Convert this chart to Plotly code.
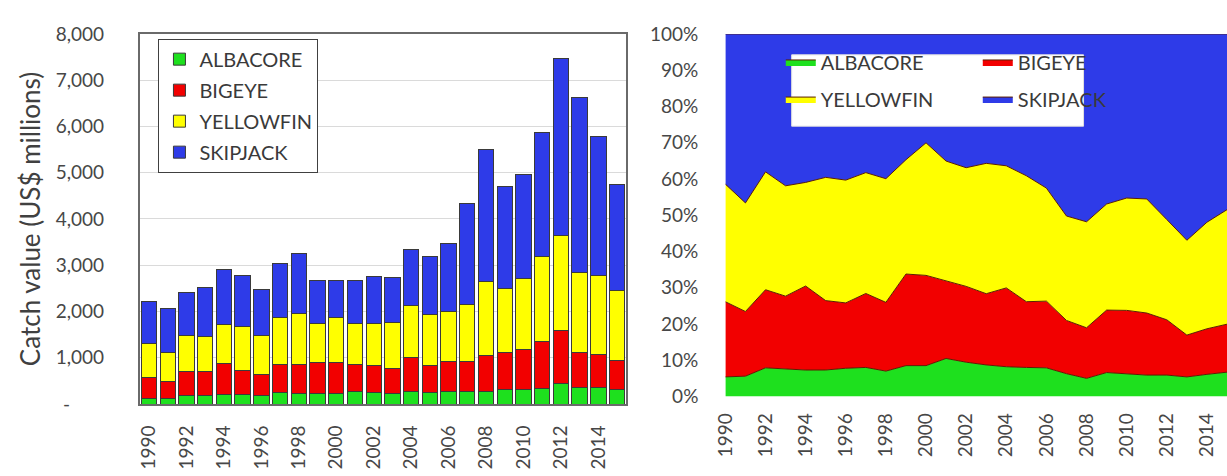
import plotly.graph_objects as go

# Annual catch value by species, US$ millions
years = list(range(1990, 2016))
albacore = [120, 116, 190, 192, 212, 203, 193, 244, 228, 228, 228, 281, 260,
            239, 274, 256, 275, 273, 275, 311, 313, 346, 441, 357, 353, 319]
bigeye = [460, 369, 518, 508, 673, 532, 447, 621, 617, 677, 667, 574, 575,
          539, 726, 579, 640, 637, 767, 811, 867, 1004, 1139, 763, 727, 629]
yellowfin = [720, 620, 782, 770, 830, 945, 840, 1015, 1110, 845, 980, 885, 900,
             987, 1125, 1110, 1085, 1250, 1608, 1378, 1540, 1845, 2065, 1730, 1700, 1502]
skipjack = [920, 965, 915, 1060, 1190, 1100, 1000, 1165, 1300, 930, 805, 940, 1015,
            980, 1215, 1250, 1480, 2180, 2850, 2210, 2250, 2670, 3825, 3765, 3005, 2305]

species = ["ALBACORE", "BIGEYE", "YELLOWFIN", "SKIPJACK"]
series = [albacore, bigeye, yellowfin, skipjack]
colors = ["#1EE01E", "#F20000", "#FFFF00", "#2E3BE8"]

value_ticks = list(range(0, 8001, 1000))
value_ticktext = ["-" + "\u00a0" * 7] + [f"{v:,}" for v in value_ticks[1:]]
pct_ticks = list(range(0, 101, 10))
pct_ticktext = [f"{v}%" for v in pct_ticks]
year_ticks = list(range(1990, 2015, 2))

FONT = "Lato"
TICK_COLOR = "#474747"
LEGEND_COLOR = "#3a3a3a"
W, H = 1227, 476

fig = go.Figure()

# Stacked bars of catch value
for name, vals, col in zip(species, series, colors):
    fig.add_trace(go.Bar(
        x=years, y=vals, name=name,
        marker=dict(color=col, line=dict(color="#3a3a3a", width=1)),
        width=0.82, legend="legend", legendgroup=name,
        xaxis="x", yaxis="y",
    ))

# 100% stacked areas of species share
for i, (name, vals, col) in enumerate(zip(species, series, colors)):
    fig.add_trace(go.Scatter(
        x=years, y=vals, name=name, mode="lines",
        stackgroup="share", groupnorm="percent",
        line=dict(color="#5a1e00", width=1),
        fillcolor=col,
        legend="legend2" if i < 2 else "legend3",
        xaxis="x2", yaxis="y2",
    ))


def px_x(p):
    return p / W


def px_y(p):
    return (H - p) / H


legend_font = dict(family=FONT, size=20, color=LEGEND_COLOR)

fig.update_layout(
    width=W, height=H,
    margin=dict(l=0, r=0, t=0, b=0),
    paper_bgcolor="white", plot_bgcolor="white",
    barmode="stack",
    font=dict(family=FONT, size=19, color=TICK_COLOR),
    xaxis=dict(
        domain=[px_x(128), px_x(620)], anchor="y",
        range=[1989.5, 2015.5], tickmode="array", tickvals=year_ticks,
        tickangle=-90, ticklabelstandoff=12,
        showgrid=False, showline=True, mirror=True,
        linecolor="#6a6a6a", linewidth=1.5, zeroline=False,
        tickfont=dict(size=19, color=TICK_COLOR),
    ),
    yaxis=dict(
        domain=[px_y(412), px_y(23)], anchor="x",
        range=[0, 8000], tickmode="array", tickvals=value_ticks,
        ticktext=value_ticktext, ticklabelstandoff=30,
        showgrid=True, gridcolor="#DADADA", gridwidth=1,
        showline=True, mirror=True, linecolor="#6a6a6a", linewidth=1.5,
        zeroline=False,
        tickfont=dict(size=19, color=TICK_COLOR),
        title=dict(text="Catch value (US$ millions)",
                   font=dict(size=26, color="#404040"), standoff=8),
    ),
    xaxis2=dict(
        domain=[px_x(720), 1.0], anchor="y2",
        range=[1990, 2015], tickmode="array", tickvals=year_ticks,
        tickangle=-90, ticklabelstandoff=12,
        showgrid=False, showline=False, zeroline=False,
        tickfont=dict(size=19, color=TICK_COLOR),
    ),
    yaxis2=dict(
        domain=[px_y(404), px_y(23)], anchor="x2",
        range=[0, 100], tickmode="array", tickvals=pct_ticks,
        ticktext=pct_ticktext, ticklabelstandoff=26,
        showgrid=False, showline=False, zeroline=False,
        tickfont=dict(size=19, color=TICK_COLOR),
    ),
    legend=dict(
        x=px_x(147), y=px_y(28), xanchor="left", yanchor="top",
        orientation="v", traceorder="grouped", tracegroupgap=2,
        bgcolor="white", bordercolor="#404040", borderwidth=1,
        font=legend_font,
    ),
    legend2=dict(
        x=px_x(776), y=px_y(32), xanchor="left", yanchor="top",
        orientation="h", traceorder="normal",
        entrywidth=152, entrywidthmode="pixels",
        bgcolor="rgba(0,0,0,0)", borderwidth=0,
        font=legend_font,
    ),
    legend3=dict(
        x=px_x(776), y=px_y(71), xanchor="left", yanchor="top",
        orientation="h", traceorder="normal",
        entrywidth=152, entrywidthmode="pixels",
        bgcolor="rgba(0,0,0,0)", borderwidth=0,
        font=legend_font,
    ),
    shapes=[dict(
        type="rect", xref="paper", yref="paper",
        x0=px_x(787), x1=px_x(1082), y0=px_y(120), y1=px_y(45),
        fillcolor="white", line=dict(color="#E0E0E0", width=1),
        layer="above",
    )],
)

fig.write_html("out.html")
